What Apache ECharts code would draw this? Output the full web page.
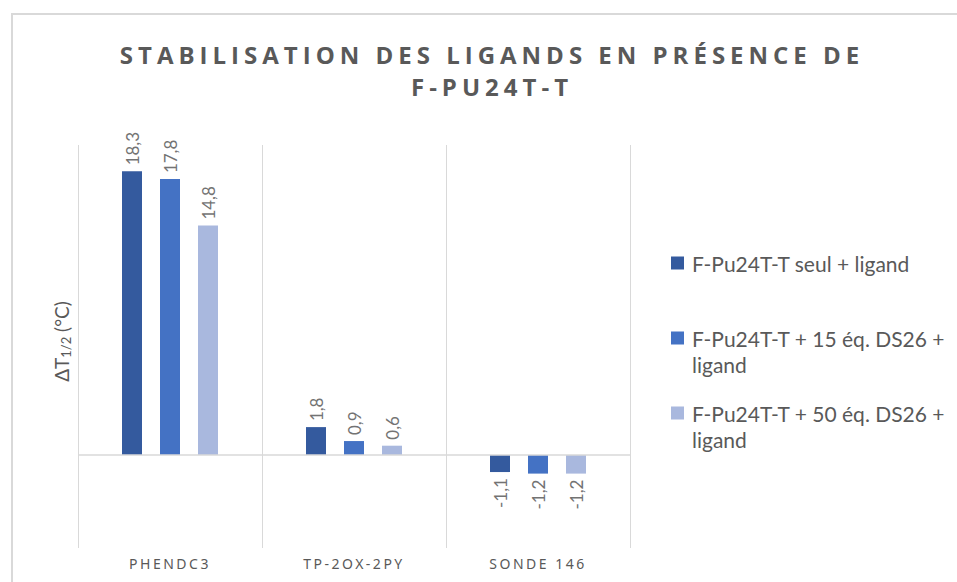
<!DOCTYPE html>
<html>
<head>
<meta charset="utf-8">
<script src="https://cdn.jsdelivr.net/npm/echarts@6/dist/echarts.min.js"></script>
<style>
  html, body { margin: 0; padding: 0; background: #fff; }
  #chart { width: 957px; height: 582px; }
  /* spaced capitals for the title and the category names */
  #chart text[style*="Open Sans"] { letter-spacing: 5px; }
  #chart text[style*="Noto Sans"] { letter-spacing: 2.5px; }
</style>
</head>
<body>
<div id="chart"></div>
<script>
const titleText = 'STABILISATION DES LIGANDS EN PRÉSENCE DE\nF-PU24T-T';
const categories = ['PHENDC3', 'TP-2OX-2PY', 'SONDE 146'];
const seriesNames = [
  'F-Pu24T-T seul + ligand',
  'F-Pu24T-T + 15 éq. DS26 + ligand',
  'F-Pu24T-T + 50 éq. DS26 + ligand'
];
const seulValues = [18.3, 1.8, -1.1];
const ds15Values = [17.8, 0.9, -1.2];
const ds50Values = [14.8, 0.6, -1.2];
const seriesColors = ['#345A9E', '#4472C4', '#A9B8DE'];

const gridGray = '#d9d9d9';
const textGray = '#595959';
const labelGray = '#737373';

function fmt(v) { return v.toFixed(1).replace('.', ','); }

function barData(values) {
  return values.map(v => ({
    value: v,
    label: v < 0
      ? { position: 'bottom', align: 'right' }
      : { position: 'top', align: 'left' }
  }));
}

function makeSeries(name, values, color, withZeroLine) {
  const s = {
    name: name,
    type: 'bar',
    data: barData(values),
    barWidth: 20,
    barGap: '90%',
    itemStyle: { color: color },
    label: {
      show: true,
      rotate: 90,
      verticalAlign: 'middle',
      distance: 6,
      color: labelGray,
      fontFamily: 'Lato',
      fontSize: 17,
      formatter: p => fmt(p.value)
    }
  };
  if (withZeroLine) {
    s.markLine = {
      silent: true,
      symbol: 'none',
      label: { show: false },
      lineStyle: { color: gridGray, width: 1.5, type: 'solid' },
      data: [{ yAxis: 0 }]
    };
  }
  return s;
}

// wrap long legend names onto a second line after the last "+"
function legendLabel(name) {
  const i = name.lastIndexOf('+ ligand');
  return (i > 0 && name.length > 24) ? name.slice(0, i + 1) + '\nligand' : name;
}

// square marker sitting in the top third of a tall box, so that it lines up
// with the first line of a two-line legend entry
const topSquare = 'path://M0,0L13,0L13,13L0,13Z M0,39L13,39';

const legendTops = [250, 325, 400];
const legends = seriesNames.map((n, i) => {
  const twoLines = legendLabel(n).indexOf('\n') > 0;
  return {
    data: [n],
    left: 671,
    top: legendTops[i],
    orient: 'vertical',
    padding: 0,
    icon: twoLines ? topSquare : 'rect',
    itemWidth: 13,
    itemHeight: twoLines ? 39 : 13,
    selectedMode: false,
    formatter: legendLabel,
    textStyle: {
      color: textGray,
      fontFamily: 'Lato',
      fontSize: 21,
      lineHeight: 26,
      padding: [0, 0, 0, 3]
    }
  };
});

const chart = echarts.init(document.getElementById('chart'), null, { renderer: 'svg' });
chart.setOption({
  animation: false,
  title: {
    text: titleText,
    left: 487,
    top: 33,
    textAlign: 'center',
    textStyle: {
      fontFamily: 'Open Sans',
      fontWeight: 'bold',
      fontSize: 24,
      lineHeight: 32,
      color: textGray
    }
  },
  legend: legends,
  graphic: [{
    type: 'rect',
    silent: true,
    shape: { x: 12, y: 14, width: 1000, height: 1000 },
    style: { fill: 'none', stroke: gridGray, lineWidth: 2 }
  }],
  grid: { left: 78, right: 327, top: 145, bottom: 34 },
  xAxis: {
    type: 'category',
    data: categories,
    axisLine: { show: false, onZero: false },
    axisTick: { show: false },
    splitLine: { show: true, lineStyle: { color: gridGray, width: 1 } },
    axisLabel: {
      margin: 8,
      color: textGray,
      fontFamily: 'Noto Sans',
      fontSize: 14
    }
  },
  yAxis: {
    type: 'value',
    min: -6,
    max: 20,
    axisLine: { show: false },
    axisTick: { show: false },
    axisLabel: { show: false },
    splitLine: { show: false },
    name: '{a|ΔT}{s|1/2}{a| (°C)}',
    nameLocation: 'middle',
    nameRotate: 90,
    nameGap: 6,
    nameTextStyle: {
      padding: [0, 0, 0, 10],
      rich: {
        a: { fontFamily: 'Lato', fontSize: 19, color: textGray },
        s: { fontFamily: 'Lato', fontSize: 13, color: textGray, verticalAlign: 'bottom', padding: [9, 0, 0, 0] }
      }
    }
  },
  series: [
    makeSeries(seriesNames[0], seulValues, seriesColors[0], true),
    makeSeries(seriesNames[1], ds15Values, seriesColors[1], false),
    makeSeries(seriesNames[2], ds50Values, seriesColors[2], false)
  ]
});
</script>
</body>
</html>
